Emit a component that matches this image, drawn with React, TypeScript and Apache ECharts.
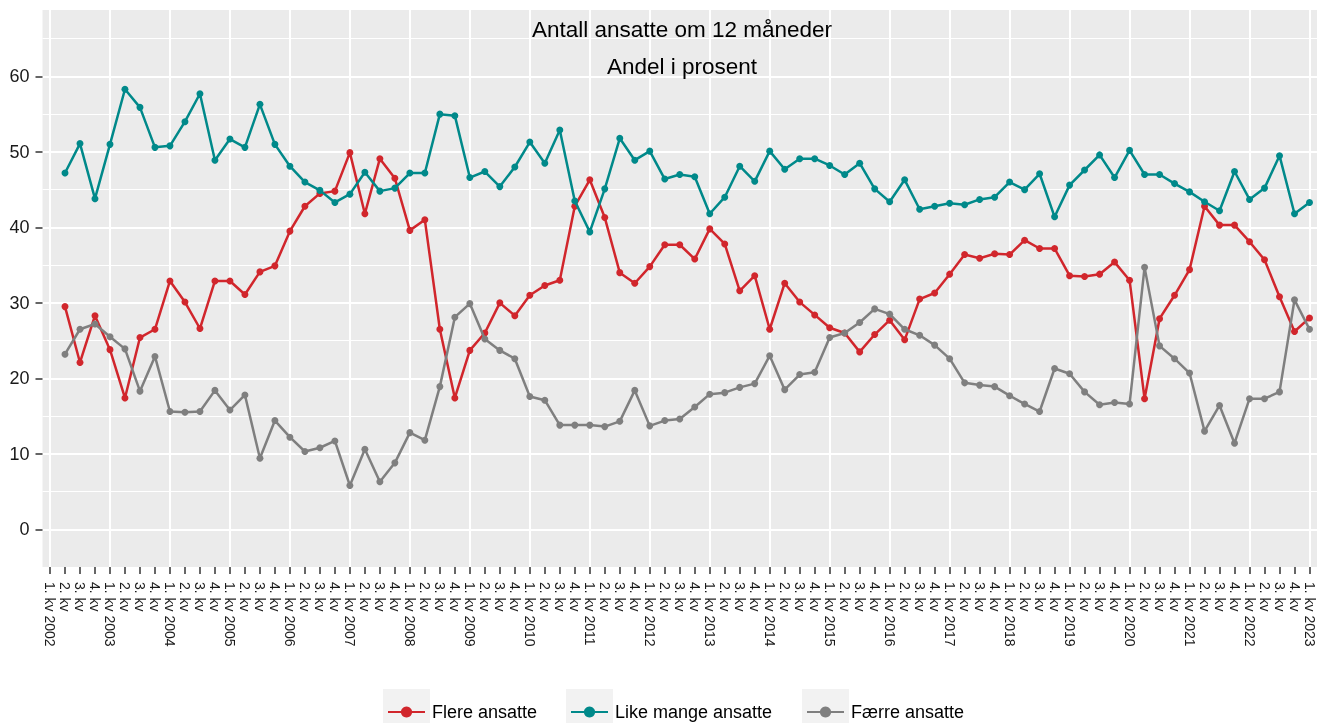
import React, { useEffect, useRef } from "react";
import * as echarts from "echarts";

const FONT = "'Liberation Sans', Arial, sans-serif";

const years = [2002, 2003, 2004, 2005, 2006, 2007, 2008, 2009, 2010, 2011, 2012, 2013, 2014, 2015, 2016, 2017, 2018, 2019, 2020, 2021, 2022];
const lastCategory = "1. kv 2023";
const quarterLabels = ["2. kv", "3. kv", "4. kv"];

const categories: string[] = [];
years.forEach((y) => {
  categories.push("1. kv " + y);
  quarterLabels.forEach((q) => categories.push(q));
});
categories.push(lastCategory);

const seriesNames = ["Flere ansatte", "Like mange ansatte", "Færre ansatte"];
const seriesColors = ["#D1262C", "#00898A", "#7F7F7F"];

// values from 2. kv 2002 to 1. kv 2023
const flere = [29.5, 22.1, 28.3, 23.8, 17.4, 25.4, 26.5, 32.9, 30.1, 26.6, 32.9, 32.9, 31.1, 34.1, 34.9, 39.5, 42.8, 44.5, 44.8, 49.9, 41.8, 49.1, 46.5, 39.6, 41.0, 26.5, 17.4, 23.7, 26.0, 30.0, 28.3, 31.0, 32.3, 33.0, 42.8, 46.3, 41.3, 34.0, 32.6, 34.8, 37.7, 37.7, 35.8, 39.8, 37.8, 31.6, 33.6, 26.5, 32.6, 30.1, 28.4, 26.7, 26.0, 23.5, 25.8, 27.7, 25.1, 30.5, 31.3, 33.8, 36.4, 35.9, 36.5, 36.4, 38.3, 37.2, 37.2, 33.6, 33.5, 33.8, 35.4, 33.0, 17.3, 27.9, 31.0, 34.4, 42.8, 40.3, 40.3, 38.1, 35.7, 30.8, 26.2, 28.0];
const likeMange = [47.2, 51.1, 43.8, 51.0, 58.3, 55.9, 50.6, 50.8, 54.0, 57.7, 48.9, 51.7, 50.6, 56.3, 51.0, 48.1, 46.0, 44.9, 43.3, 44.4, 47.3, 44.8, 45.2, 47.2, 47.2, 55.0, 54.8, 46.6, 47.4, 45.4, 48.0, 51.3, 48.5, 52.9, 43.5, 39.4, 45.1, 51.8, 48.9, 50.1, 46.4, 47.0, 46.7, 41.8, 44.0, 48.1, 46.1, 50.1, 47.7, 49.1, 49.1, 48.2, 47.0, 48.5, 45.1, 43.4, 46.3, 42.4, 42.8, 43.2, 43.0, 43.7, 44.0, 46.0, 45.0, 47.1, 41.4, 45.6, 47.6, 49.6, 46.6, 50.2, 47.0, 47.0, 45.8, 44.7, 43.4, 42.2, 47.4, 43.7, 45.2, 49.5, 41.8, 43.3];
const faerre = [23.2, 26.5, 27.2, 25.5, 23.9, 18.3, 22.9, 15.6, 15.5, 15.6, 18.4, 15.8, 17.8, 9.4, 14.4, 12.2, 10.3, 10.8, 11.7, 5.8, 10.6, 6.3, 8.8, 12.8, 11.8, 18.9, 28.1, 29.9, 25.2, 23.7, 22.6, 17.6, 17.1, 13.8, 13.8, 13.8, 13.6, 14.3, 18.4, 13.7, 14.4, 14.6, 16.2, 17.9, 18.1, 18.8, 19.3, 23.0, 18.5, 20.5, 20.8, 25.4, 26.0, 27.4, 29.2, 28.5, 26.5, 25.7, 24.4, 22.6, 19.4, 19.1, 18.9, 17.7, 16.6, 15.6, 21.3, 20.6, 18.2, 16.5, 16.8, 16.6, 34.7, 24.3, 22.6, 20.7, 13.0, 16.4, 11.4, 17.3, 17.3, 18.2, 30.4, 26.5];

const yTicks = [0, 10, 20, 30, 40, 50, 60];
const yMinorTicks = [5, 15, 25, 35, 45, 55, 65];
const yMin = -5;
const yMax = 68.8;

export default function App() {
  const ref = useRef<HTMLDivElement>(null);

  useEffect(() => {
    if (!ref.current) return;
    const chart = echarts.init(ref.current, null, { renderer: "svg" });
    const allData = [flere, likeMange, faerre];
    const yearStarts = categories.map((_, i) => i).filter((i) => i % 4 === 0);
    const grid = { left: 42.5, top: 10, width: 1279, height: 557 };
    const keyBoxes = [383, 566, 802];
    const legendLefts = [387, 570, 806];

    chart.setOption({
      animation: false,
      textStyle: { fontFamily: FONT },
      title: [
        {
          text: "Antall ansatte om 12 måneder",
          left: 682,
          top: 17.5,
          padding: 0,
          textAlign: "center",
          textStyle: { fontSize: 22.5, fontWeight: "normal", color: "#000", fontFamily: FONT },
        },
        {
          text: "Andel i prosent",
          left: 682,
          top: 55,
          padding: 0,
          textAlign: "center",
          textStyle: { fontSize: 22.5, fontWeight: "normal", color: "#000", fontFamily: FONT },
        },
      ],
      grid: { ...grid, show: true, backgroundColor: "#EBEBEB", borderWidth: 0, containLabel: false },
      xAxis: [
        {
          type: "category",
          data: categories,
          boundaryGap: true,
          axisLine: { show: false, onZero: false },
          axisTick: { show: true, alignWithLabel: true, interval: 0, length: 7, lineStyle: { color: "#333", width: 1.5 } },
          axisLabel: {
            interval: 0,
            rotate: -90,
            margin: 15,
            fontSize: 14,
            color: "#1a1a1a",
            fontFamily: FONT,
          },
          splitLine: { show: false },
        },
        {
          type: "value",
          position: "top",
          min: -0.5,
          max: categories.length - 0.5,
          axisLine: { show: false, onZero: false },
          axisTick: { show: false, customValues: yearStarts },
          axisLabel: { show: false, customValues: yearStarts },
          splitLine: { show: true, lineStyle: { color: "#FFFFFF", width: 2 } },
        },
      ],
      yAxis: [
        {
          type: "value",
          min: yMin,
          max: yMax,
          axisLine: { show: false, onZero: false },
          axisTick: { show: true, length: 7, customValues: yTicks, lineStyle: { color: "#333", width: 1.5 } },
          axisLabel: { customValues: yTicks, margin: 13, fontSize: 18, color: "#1a1a1a", fontFamily: FONT },
          splitLine: { show: true, lineStyle: { color: "#FFFFFF", width: 2 } },
          z: 1,
        },
        {
          type: "value",
          position: "right",
          min: yMin,
          max: yMax,
          axisLine: { show: false, onZero: false },
          axisTick: { show: false, customValues: yMinorTicks },
          axisLabel: { show: false, customValues: yMinorTicks },
          splitLine: { show: true, lineStyle: { color: "#FFFFFF", width: 1 } },
          z: 0,
        },
      ],
      legend: seriesNames.map((name, i) => ({
        data: [name],
        left: legendLefts[i],
        top: 703,
        padding: 0,
        itemWidth: 37,
        itemHeight: 14,
        itemGap: 0,
        textStyle: { fontSize: 18, color: "#000", fontFamily: FONT, padding: [0, 0, 0, 2] },
      })),
      graphic: keyBoxes.map((x) => ({
        type: "rect",
        z: 0,
        shape: { x, y: 689, width: 47, height: 47 },
        style: { fill: "#F2F2F2" },
      })),
      series: seriesNames.map((name, i) => ({
        name,
        type: "line",
        xAxisIndex: 0,
        yAxisIndex: 0,
        data: [null, ...allData[i]],
        symbol: "circle",
        symbolSize: 7,
        showSymbol: true,
        connectNulls: false,
        lineStyle: { color: seriesColors[i], width: 2.5 },
        itemStyle: { color: seriesColors[i] },
        z: 3 + i,
      })),
    });

    return () => chart.dispose();
  }, []);

  return <div ref={ref} style={{ position: "fixed", left: 0, top: 0, width: 1317, height: 723 }} />;
}
